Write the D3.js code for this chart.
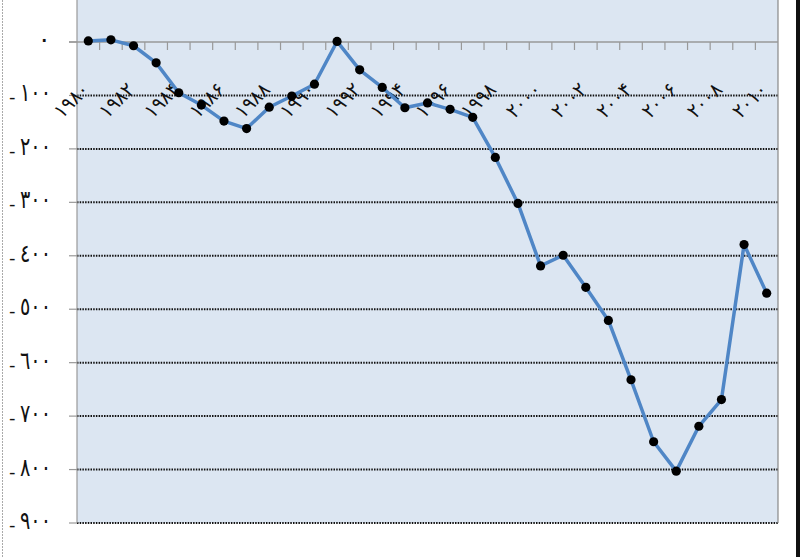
<!DOCTYPE html>
<html><head><meta charset="utf-8">
<script src="https://cdn.jsdelivr.net/npm/d3@7/dist/d3.min.js"></script>
<style>body{margin:0;background:#fff}svg{display:block}text{font-family:"DejaVu Sans",sans-serif}</style>
</head><body><svg id="c" width="800" height="557"></svg>
<script>
const years = [1980,1981,1982,1983,1984,1985,1986,1987,1988,1989,1990,1991,1992,1993,1994,1995,1996,1997,1998,1999,2000,2001,2002,2003,2004,2005,2006,2007,2008,2009,2010];
const values = [2,4,-7,-39,-95,-118,-148,-162,-122,-101,-79,1,-52,-85,-123,-114,-126,-141,-216,-302,-419,-399,-459,-521,-632,-748,-803,-719,-669,-379,-470];
const xLabelYears = [1980,1982,1984,1986,1988,1990,1992,1994,1996,1998,2000,2002,2004,2006,2008,2010];
const xLabels = ["۱۹۸۰","۱۹۸۲","۱۹۸۴","۱۹۸۶","۱۹۸۸","۱۹۹۰","۱۹۹۲","۱۹۹۴","۱۹۹۶","۱۹۹۸","۲۰۰۰","۲۰۰۲","۲۰۰۴","۲۰۰۶","۲۰۰۸","۲۰۱۰"];
const yTicks = [0,-100,-200,-300,-400,-500,-600,-700,-800,-900];
const yLabels = ["٠","١٠٠","٢٠٠","٣٠٠","٤٠٠","٥٠٠","٦٠٠","٧٠٠","٨٠٠","٩٠٠"];

const svg = d3.select("#c");
const L = 77, R = 778;
const x = d3.scaleBand().domain(years).range([L, R]).paddingInner(0).paddingOuter(0);
const y = d3.scaleLinear().domain([-900, 0]).range([523, 42]);
const cx = d => x(d) + x.bandwidth()/2;

// frame lines
svg.append("line").attr("x1",2.5).attr("x2",2.5).attr("y1",0).attr("y2",557)
  .attr("stroke","#aaa").attr("stroke-width",1).attr("stroke-dasharray","2,1");
svg.append("rect").attr("x",796).attr("y",0).attr("width",4).attr("height",557).attr("fill","#111");

// plot background
svg.append("rect").attr("x",L).attr("y",0).attr("width",R-L).attr("height",y(-900)).attr("fill","#dce6f2");

// gridlines (dotted)
svg.append("g").selectAll("line").data(yTicks.filter(v=>v!==0)).join("line")
  .attr("x1",L).attr("x2",R).attr("y1",d=>y(d)).attr("y2",d=>y(d))
  .attr("stroke","#111").attr("stroke-width",2).attr("stroke-dasharray","1.5,1.2");

// y axis line and ticks
svg.append("line").attr("x1",L).attr("x2",L).attr("y1",0).attr("y2",y(-900)).attr("stroke","#999").attr("stroke-width",1.2);
svg.append("line").attr("x1",R).attr("x2",R).attr("y1",0).attr("y2",y(-900)).attr("stroke","#888").attr("stroke-width",1.2);
svg.append("g").selectAll("line").data(yTicks).join("line")
  .attr("x1",69).attr("x2",L).attr("y1",d=>y(d)).attr("y2",d=>y(d)).attr("stroke","#999").attr("stroke-width",1.2);

// y labels
const yl = svg.append("g");
yl.selectAll("text.num").data(yTicks).join("text").attr("class","num")
  .attr("x",51).attr("y",d=>y(d)+6).attr("text-anchor","end")
  .attr("font-size",25).attr("fill","#111")
  .each(function(d,i){ if(d!==0){ d3.select(this).attr("textLength",31).attr("lengthAdjust","spacingAndGlyphs"); } })
  .text((d,i)=>yLabels[i]);
yl.selectAll("text.minus").data(yTicks.filter(v=>v<0)).join("text").attr("class","minus")
  .attr("x",9).attr("y",d=>y(d)+8).attr("font-size",18).attr("fill","#111").text("-");

// zero axis with category ticks
svg.append("line").attr("x1",69).attr("x2",R).attr("y1",y(0)).attr("y2",y(0)).attr("stroke","#999").attr("stroke-width",1.5);
svg.append("g").selectAll("line").data(years.slice(1)).join("line")
  .attr("x1",d=>x(d)).attr("x2",d=>x(d)).attr("y1",y(0)).attr("y2",y(0)+8)
  .attr("stroke","#999").attr("stroke-width",1.2);

// x labels
svg.append("g").selectAll("text").data(xLabelYears).join("text")
  .attr("transform",d=>`translate(${cx(d)+2},${91}) rotate(-45)`)
  .attr("text-anchor","end").attr("font-size",20).attr("fill","#111")
  .attr("textLength",40).attr("lengthAdjust","spacingAndGlyphs")
  .text((d,i)=>xLabels[i]);

// line
const line = d3.line().x((d,i)=>cx(years[i])).y(d=>y(d));
svg.append("path").datum(values).attr("d",line).attr("fill","none")
  .attr("stroke","#4f86c6").attr("stroke-width",3.5).attr("stroke-linejoin","round");
svg.append("g").selectAll("circle").data(values).join("circle")
  .attr("cx",(d,i)=>cx(years[i])).attr("cy",d=>y(d)).attr("r",4.6).attr("fill","#000");
</script></body></html>
